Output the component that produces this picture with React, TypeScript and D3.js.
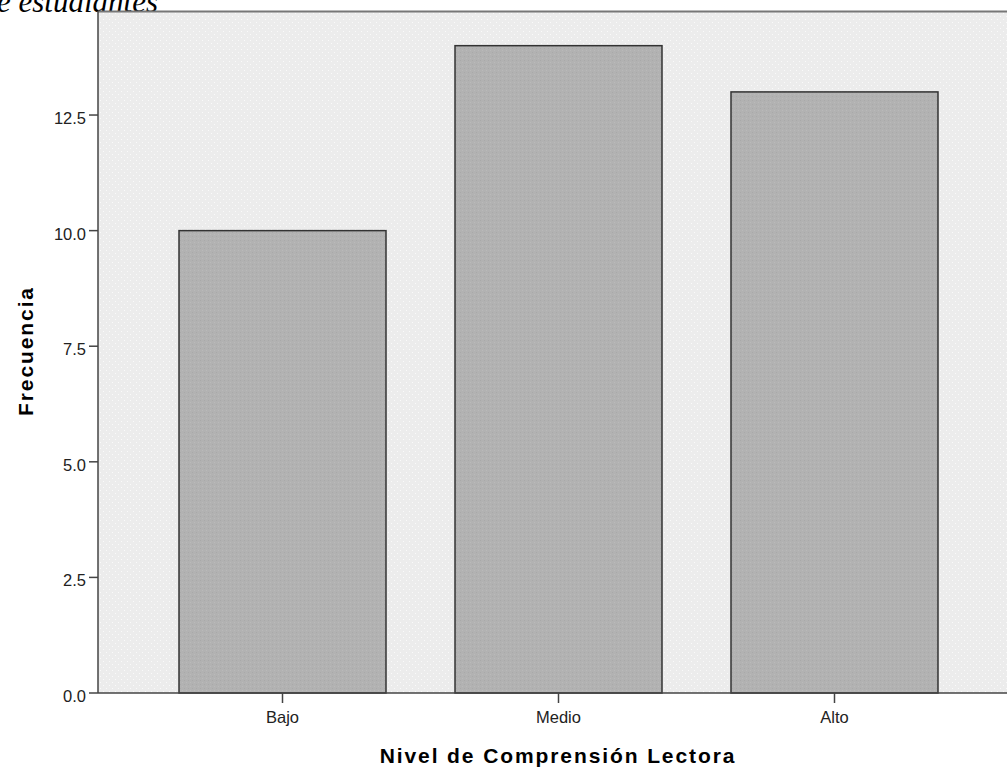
import React from "react";
import * as d3 from "d3";

const categories = ["Bajo", "Medio", "Alto"];
const frequencies = [10, 14, 13];
const yTicks = [0, 2.5, 5, 7.5, 10, 12.5];
const titleText = "e estudiantes";
const xTitle = "Nivel de Comprensión Lectora";
const yTitle = "Frecuencia";

export default function App() {
  const W = 1007, H = 770;
  const left = 98, top = 11, bottom = 693, rightExt = 1019;
  const x = d3.scaleBand<string>().domain(categories).range([left, rightExt]).paddingInner(0.25).paddingOuter(0.2935);
  const y = d3.scaleLinear().domain([0, 14.75]).range([bottom, top]);
  const fmt = d3.format(".1f");
  const sans = "Liberation Sans, Arial, sans-serif";
  return (
    <svg width={W} height={H} style={{ position: "absolute", left: 0, top: 0, background: "#fff" }}>
      <defs>
        <pattern id="dots" width="6" height="6" patternUnits="userSpaceOnUse">
          <rect width="6" height="6" fill="#ececec" />
          <rect x="1" y="1" width="1" height="1" fill="#fafafa" />
          <rect x="4" y="4" width="1" height="1" fill="#fafafa" />
        </pattern>
        <pattern id="barpat" width="4" height="4" patternUnits="userSpaceOnUse">
          <rect width="4" height="4" fill="#b2b2b2" />
          <rect x="0" y="0" width="1" height="1" fill="#a9a9a9" />
          <rect x="2" y="2" width="1" height="1" fill="#bababa" />
        </pattern>
      </defs>
      <text x={-3} y={12} fontFamily="Liberation Serif, serif" fontStyle="italic" fontSize={31} fill="#000">{titleText}</text>
      <rect x={left} y={top} width={W - left} height={bottom - top} fill="url(#dots)" />
      <line x1={left} x2={W} y1={top + 0.5} y2={top + 0.5} stroke="#777" strokeWidth={2} />
      {categories.map((c, i) => (
        <rect key={c} x={x(c)!} y={y(frequencies[i])} width={x.bandwidth()} height={bottom - y(frequencies[i])}
          fill="url(#barpat)" stroke="#333" strokeWidth={1.5} />
      ))}
      <line x1={left} x2={left} y1={top} y2={bottom} stroke="#444" strokeWidth={1.5} />
      <line x1={left} x2={W} y1={bottom} y2={bottom} stroke="#444" strokeWidth={1.5} />
      {yTicks.map(t => (
        <g key={t}>
          <line x1={left - 9} x2={left} y1={y(t)} y2={y(t)} stroke="#444" strokeWidth={1.5} />
          <text x={left - 12} y={y(t) + 9} textAnchor="end" fontFamily={sans} fontSize={16.5} fill="#222">{fmt(t)}</text>
        </g>
      ))}
      {categories.map(c => {
        const cx = x(c)! + x.bandwidth() / 2;
        return (
          <g key={c}>
            <line x1={cx} x2={cx} y1={bottom} y2={bottom + 10} stroke="#444" strokeWidth={1.5} />
            <text x={cx} y={723} textAnchor="middle" fontFamily={sans} fontSize={16.5} fill="#222">{c}</text>
          </g>
        );
      })}
      <text x={558} y={763} textAnchor="middle" fontFamily={sans} fontWeight="bold" fontSize={21} letterSpacing={1.9} fill="#000">{xTitle}</text>
      <text transform={`translate(33,351) rotate(-90)`} textAnchor="middle" fontFamily={sans} fontWeight="bold" fontSize={21} letterSpacing={1.9} fill="#000">{yTitle}</text>
    </svg>
  );
}
